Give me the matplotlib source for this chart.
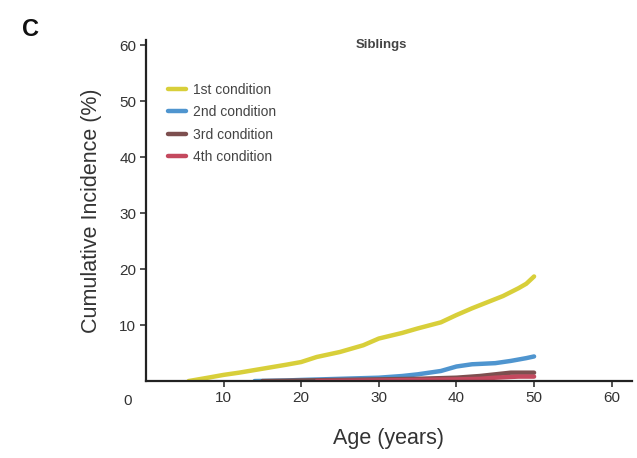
import matplotlib
matplotlib.use("Agg")
import matplotlib.pyplot as plt

plt.rcParams["font.family"] = ["Liberation Sans", "DejaVu Sans"]

# cumulative incidence (%) by age, siblings
age_1st = [5.5, 8, 10, 12, 15, 18, 20, 22, 25, 28, 30, 33, 35, 38, 40, 42, 44, 46, 48, 49, 50]
inc_1st = [0, 0.6, 1.1, 1.5, 2.2, 2.9, 3.4, 4.3, 5.2, 6.4, 7.6, 8.6, 9.4, 10.5, 11.8, 13.0, 14.1, 15.2, 16.6, 17.4, 18.7]

age_2nd = [14, 18, 20, 25, 30, 33, 35, 38, 40, 42, 45, 47, 49, 50]
inc_2nd = [0, 0.1, 0.2, 0.4, 0.6, 0.9, 1.2, 1.8, 2.6, 3.0, 3.2, 3.6, 4.1, 4.4]

age_3rd = [15, 20, 25, 30, 35, 40, 43, 45, 47, 50]
inc_3rd = [0, 0.1, 0.2, 0.3, 0.4, 0.6, 0.9, 1.2, 1.5, 1.5]

age_4th = [22, 30, 35, 40, 43, 45, 48, 50]
inc_4th = [0, 0.1, 0.2, 0.3, 0.4, 0.6, 0.8, 0.8]

labels = ["1st condition", "2nd condition", "3rd condition", "4th condition"]
colors = ["#d8cf3a", "#4f95cf", "#7d4f4f", "#c4495e"]

x_ticks = [10, 20, 30, 40, 50, 60]
y_ticks = [10, 20, 30, 40, 50, 60]

fig = plt.figure(figsize=(6.37, 4.58), dpi=100)
ax = fig.add_axes([0.229, 0.168, 0.763, 0.745])

series = [(age_1st, inc_1st), (age_2nd, inc_2nd), (age_3rd, inc_3rd), (age_4th, inc_4th)]
for (a, v), lab, c in zip(series, labels, colors):
    ax.plot(a, v, color=c, lw=3.2, label=lab, solid_capstyle="round", solid_joinstyle="round")

ax.set_xlim(0, 62.6)
ax.set_ylim(0, 61)
ax.set_xticks(x_ticks)
ax.set_yticks(y_ticks)
ax.tick_params(labelsize=11, colors="#333333", length=4, width=1.2, pad=3)
for s in ["top", "right"]:
    ax.spines[s].set_visible(False)
for s in ["left", "bottom"]:
    ax.spines[s].set_linewidth(1.6)
    ax.spines[s].set_color("#222222")

# lone origin label sitting below-left of the corner
ax.text(-2.4, -3.6, "0", ha="center", va="center", fontsize=11, color="#333333", clip_on=False)

ax.set_xlabel("Age (years)", fontsize=15.5, color="#333333", labelpad=17)
ax.set_ylabel("Cumulative Incidence (%)", fontsize=15.5, color="#333333", labelpad=12)

ax.text(0.485, 0.985, "Siblings", transform=ax.transAxes, ha="center", va="center",
        fontsize=9.5, fontweight="bold", color="#444444")

leg = ax.legend(loc="upper left", bbox_to_anchor=(0.035, 0.89), frameon=False,
                fontsize=10, handlelength=1.3, handletextpad=0.5, labelspacing=0.6,
                borderaxespad=0)
for t in leg.get_texts():
    t.set_color("#444444")

fig.text(0.035, 0.935, "C", fontsize=17, fontweight="bold", color="#111111", va="center")

fig.savefig("out.png", dpi=100)
